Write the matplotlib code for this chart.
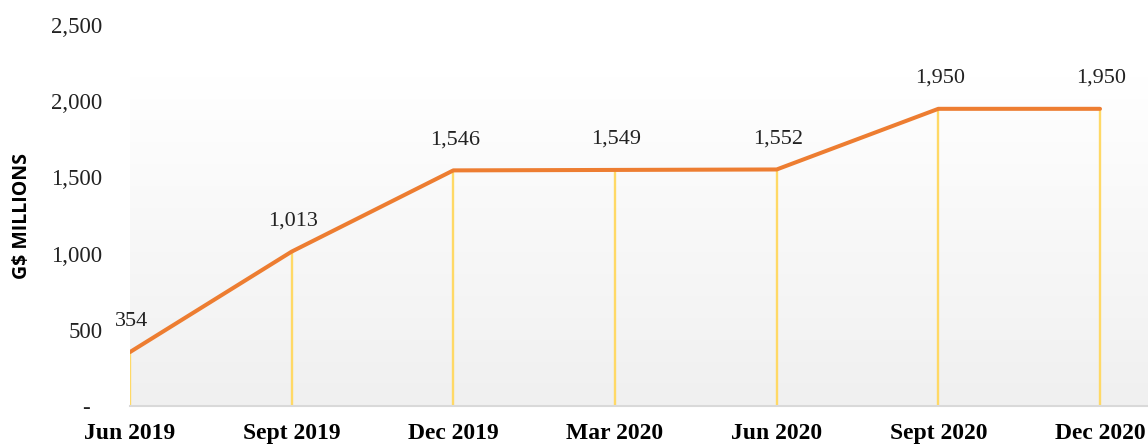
import matplotlib
matplotlib.use("Agg")
import matplotlib.pyplot as plt
import numpy as np
from matplotlib.colors import LinearSegmentedColormap

categories = ["Jun 2019", "Sept 2019", "Dec 2019", "Mar 2020", "Jun 2020", "Sept 2020", "Dec 2020"]
values = [354, 1013, 1546, 1549, 1552, 1950, 1950]
yticks = [0, 500, 1000, 1500, 2000, 2500]
ytick_labels = ["-  ", "500", "1,000", "1,500", "2,000", "2,500"]

W, H = 1148, 446
fig = plt.figure(figsize=(W / 100, H / 100), dpi=100)
ax = fig.add_axes([130 / W, (H - 406) / H, 1 - 130 / W, (406 - 25) / H])

x = np.arange(len(categories))
xmax = (W - 130) / ((1100 - 130) / 6)
ax.set_xlim(0, xmax)
ax.set_ylim(0, 2500)

# gradient background
cmap = LinearSegmentedColormap.from_list("g", ["#ffffff", "#f0f0f0"])
grad = np.linspace(0, 1, 256).reshape(-1, 1)
ax.imshow(grad, cmap=cmap, aspect="auto", extent=(0, xmax, 0, 2160), origin="upper",
          zorder=0, vmin=0, vmax=1)

# drop lines
ax.vlines(x, 0, values, colors="#FFD966", lw=1.7, zorder=2)
ax.plot(x, values, color="#ED7D31", lw=2.9, solid_capstyle="round", zorder=3)

for xi, v in zip(x, values):
    ax.annotate(f"{v:,}", (xi, v), xytext=(1, 22), textcoords="offset points",
                ha="center", va="center", fontsize=16, family="Liberation Serif",
                color="#222222")

for s in ["top", "right", "left"]:
    ax.spines[s].set_visible(False)
ax.spines["bottom"].set_color("#d9d9d9")
ax.spines["bottom"].set_linewidth(1.5)

ax.set_xticks(x)
ax.set_xticklabels(categories, fontsize=17, family="Liberation Serif", fontweight="bold")
ax.set_yticks(yticks)
ax.set_yticklabels(ytick_labels, fontsize=16.5, family="Liberation Serif", color="#222222")
ax.tick_params(axis="both", length=0)
ax.tick_params(axis="y", pad=20)
ax.tick_params(axis="x", pad=12)

fig.text(22 / W, 1 - 216 / H, "G$ MILLIONS", rotation=90, ha="center", va="center",
         fontsize=14, fontweight="bold", family="Open Sans")

fig.savefig("out.png", dpi=100)
